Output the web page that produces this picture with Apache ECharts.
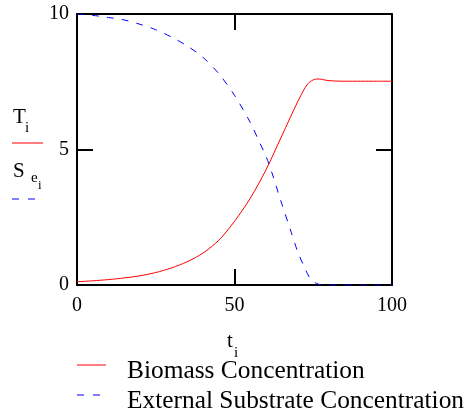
<!DOCTYPE html>
<html>
<head>
<meta charset="utf-8">
<script src="https://cdn.jsdelivr.net/npm/echarts@6/dist/echarts.min.js"></script>
<style>
html,body{margin:0;padding:0;background:#fff;}
#chart{width:473px;height:416px;}
</style>
</head>
<body>
<div id="chart"></div>
<script>
// ---- data ----
var biomassT = [0, 5, 10, 15, 20, 25, 30, 35, 40, 45, 50, 55, 60, 65, 70, 72, 73, 74, 75, 76, 77, 78, 80, 85, 90, 95, 100];
var biomass  = [0.12, 0.155, 0.2, 0.26, 0.34, 0.46, 0.63, 0.86, 1.18, 1.65, 2.35, 3.2, 4.25, 5.5, 6.75, 7.2, 7.38, 7.5, 7.57, 7.6, 7.6, 7.58, 7.54, 7.52, 7.52, 7.52, 7.52];

var substrateT = [0, 5, 10, 15, 20, 25, 30, 35, 40, 45, 50, 55, 58, 60, 62, 65, 68, 70, 72, 74, 76, 78, 80, 90, 100];
var substrate  = [10, 9.95, 9.87, 9.78, 9.62, 9.42, 9.15, 8.82, 8.4, 7.8, 7.0, 6.0, 5.25, 4.75, 4.1, 3.0, 1.95, 1.25, 0.7, 0.25, 0.06, 0, 0, 0, 0];

var xTicks = [0, 50, 100];
var yTicks = [0, 5, 10];
var seriesNames = ['Biomass Concentration', 'External Substrate Concentration'];
var seriesColors = ['#ff0000', '#0000ff'];

function pairs(xs, ys) { return xs.map(function (x, i) { return [x, ys[i]]; }); }

var FONT = '"Liberation Serif", "Times New Roman", serif';
var chart = echarts.init(document.getElementById('chart'), null, { renderer: 'canvas' });

var axisCommon = {
  type: 'value',
  axisLine: { show: true, onZero: false, lineStyle: { color: '#000', width: 2 } },
  axisTick: { show: true, inside: true, length: 16, lineStyle: { color: '#000', width: 2 } },
  splitLine: { show: false }
};

function txt(x, y, s, size) {
  return { type: 'text', x: x, y: y, silent: true,
    style: { text: s, fontFamily: FONT, fontSize: size, fill: '#000',
             align: 'left', verticalAlign: 'middle', textAlign: 'left', textVerticalAlign: 'middle' } };
}

chart.setOption({
  animation: false,
  backgroundColor: '#fff',
  grid: { left: 77, top: 14, width: 315, height: 271, containLabel: false },
  xAxis: [
    Object.assign({}, axisCommon, {
      position: 'bottom', min: xTicks[0], max: xTicks[xTicks.length - 1], interval: xTicks[1] - xTicks[0],
      axisLabel: { show: true, margin: 11, color: '#000', fontFamily: FONT, fontSize: 20 }
    }),
    Object.assign({}, axisCommon, {
      position: 'top', min: xTicks[0], max: xTicks[xTicks.length - 1], interval: xTicks[1] - xTicks[0],
      axisLabel: { show: false }
    })
  ],
  yAxis: [
    Object.assign({}, axisCommon, {
      position: 'left', min: yTicks[0], max: yTicks[yTicks.length - 1], interval: yTicks[1] - yTicks[0],
      axisLabel: { show: true, margin: 8, color: '#000', fontFamily: FONT, fontSize: 20 }
    }),
    Object.assign({}, axisCommon, {
      position: 'right', min: yTicks[0], max: yTicks[yTicks.length - 1], interval: yTicks[1] - yTicks[0],
      axisLabel: { show: false }
    })
  ],
  series: [
    {
      name: seriesNames[0], type: 'line', xAxisIndex: 0, yAxisIndex: 0,
      data: pairs(biomassT, biomass), smooth: 0.3, symbol: 'none',
      lineStyle: { color: seriesColors[0], width: 1 }, itemStyle: { color: seriesColors[0] }
    },
    {
      name: seriesNames[1], type: 'line', xAxisIndex: 0, yAxisIndex: 0,
      data: pairs(substrateT, substrate), smooth: 0.3, symbol: 'none',
      lineStyle: { color: seriesColors[1], width: 1, type: [7, 8] }, itemStyle: { color: seriesColors[1] }
    }
  ],
  graphic: [
    // y-axis name block
    txt(13, 117, 'T', 21),
    txt(25, 128, 'i', 15),
    { type: 'line', silent: true, shape: { x1: 12, y1: 143, x2: 43, y2: 143 }, style: { stroke: seriesColors[0], lineWidth: 1 } },
    txt(13, 171, 'S', 21),
    txt(31, 178, 'e', 15),
    txt(38, 186, 'i', 13),
    { type: 'line', silent: true, shape: { x1: 12, y1: 199, x2: 35, y2: 199 }, style: { stroke: seriesColors[1], lineWidth: 1, lineDash: [7, 9] } },
    // x-axis name
    txt(227, 341, 't', 21),
    txt(234, 353, 'i', 15),
    // legend
    { type: 'line', silent: true, shape: { x1: 77, y1: 365, x2: 106, y2: 365 }, style: { stroke: seriesColors[0], lineWidth: 1 } },
    txt(127, 371, seriesNames[0], 25.4),
    { type: 'line', silent: true, shape: { x1: 77, y1: 395, x2: 100, y2: 395 }, style: { stroke: seriesColors[1], lineWidth: 1, lineDash: [7, 9] } },
    txt(127, 401, seriesNames[1], 25.4)
  ]
});
</script>
</body>
</html>
